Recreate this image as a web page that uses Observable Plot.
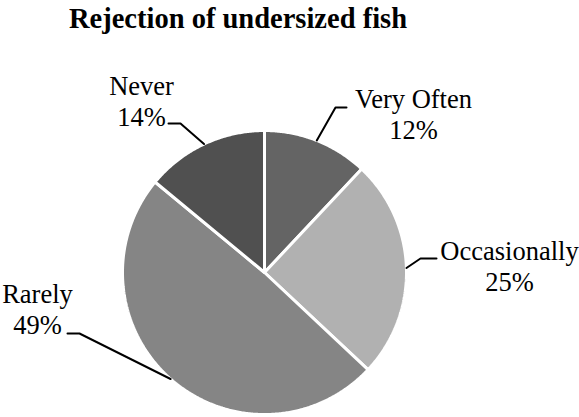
<!DOCTYPE html>
<html>
<head>
<meta charset="utf-8">
<script src="https://cdn.jsdelivr.net/npm/d3@7"></script>
<script src="https://cdn.jsdelivr.net/npm/@observablehq/plot@0.6"></script>
<style>
  html, body { margin: 0; padding: 0; background: #fff; }
  #title { width: 476px; height: 45px; line-height: 37px; text-align: center;
           font-family: "Liberation Serif", "Times New Roman", serif; font-weight: bold; font-size: 28.5px; color: #000; }
</style>
</head>
<body>
<div id="title">Rejection of undersized fish</div>
<div id="chart"></div>
<script>
// ---- data ----
const categories = ["Very Often", "Occasionally", "Rarely", "Never"];
const percents = [12, 25, 49, 14];
const percentLabels = ["12%", "25%", "49%", "14%"];
const sliceColors = ["#646464", "#b1b1b1", "#858585", "#505050"];

// ---- layout (page pixel coordinates) ----
const W = 579, H = 417, TOP = 45;
const pieGeom = { cx: 264, cy: 272, r: 142 };
const labelLayout = [
  { elbow: [335, 107], end: [346, 107], text: [413, 138] },
  { elbow: [420, 258], end: [436, 258], text: [509, 290] },
  { elbow: [79, 333],  end: [67, 333],  text: [37, 333] },
  { elbow: [180, 123], end: [168, 123], text: [141, 125] }
];
const SERIF = '"Liberation Serif", "Times New Roman", Times, serif';

const arcs = d3.pie().sort(null).value(d => d)(percents);
const pt = (a, r) => [pieGeom.cx + r * Math.sin(a), pieGeom.cy - r * Math.cos(a)];

const sliceRows = [];
arcs.forEach((a, i) => {
  const cat = categories[i];
  sliceRows.push({ cat, x: pieGeom.cx, y: pieGeom.cy });
  const n = Math.max(2, Math.ceil((a.endAngle - a.startAngle) / (Math.PI / 360)));
  for (let k = 0; k <= n; k++) {
    const t = a.startAngle + (a.endAngle - a.startAngle) * k / n;
    const [x, y] = pt(t, pieGeom.r);
    sliceRows.push({ cat, x, y });
  }
  sliceRows.push({ cat, x: pieGeom.cx, y: pieGeom.cy });
});

const leaderRows = [];
arcs.forEach((a, i) => {
  const mid = (a.startAngle + a.endAngle) / 2;
  const [x0, y0] = pt(mid, pieGeom.r);
  const L = labelLayout[i];
  leaderRows.push({ cat: categories[i], x: x0, y: y0 });
  leaderRows.push({ cat: categories[i], x: L.elbow[0], y: L.elbow[1] });
  leaderRows.push({ cat: categories[i], x: L.end[0], y: L.end[1] });
});

const labelRows = categories.map((c, i) => ({
  text: c + "\n" + percentLabels[i],
  x: labelLayout[i].text[0],
  y: labelLayout[i].text[1]
}));

const chart = Plot.plot({
  width: W,
  height: H - TOP,
  margin: 0,
  style: { fontFamily: SERIF },
  x: { domain: [0, W], range: [0, W], axis: null },
  y: { domain: [TOP, H], range: [0, H - TOP], axis: null },
  color: { domain: categories, range: sliceColors },
  marks: [
    Plot.line(sliceRows, { x: "x", y: "y", z: "cat", fill: "cat", stroke: "white", strokeWidth: 3, strokeLinejoin: "miter" }),
    Plot.line(leaderRows, { x: "x", y: "y", z: "cat", stroke: "black", strokeWidth: 2 }),
    Plot.text(labelRows, {
      x: "x", y: "y", text: "text",
      fontSize: 26.5, fontFamily: SERIF, lineAnchor: "bottom", lineHeight: 1.14,
      textAnchor: "middle", fill: "black"
    })
  ]
});
d3.select(chart).selectAll("text, tspan").style("font-family", SERIF);
document.getElementById("chart").appendChild(chart);
</script>
</body>
</html>
